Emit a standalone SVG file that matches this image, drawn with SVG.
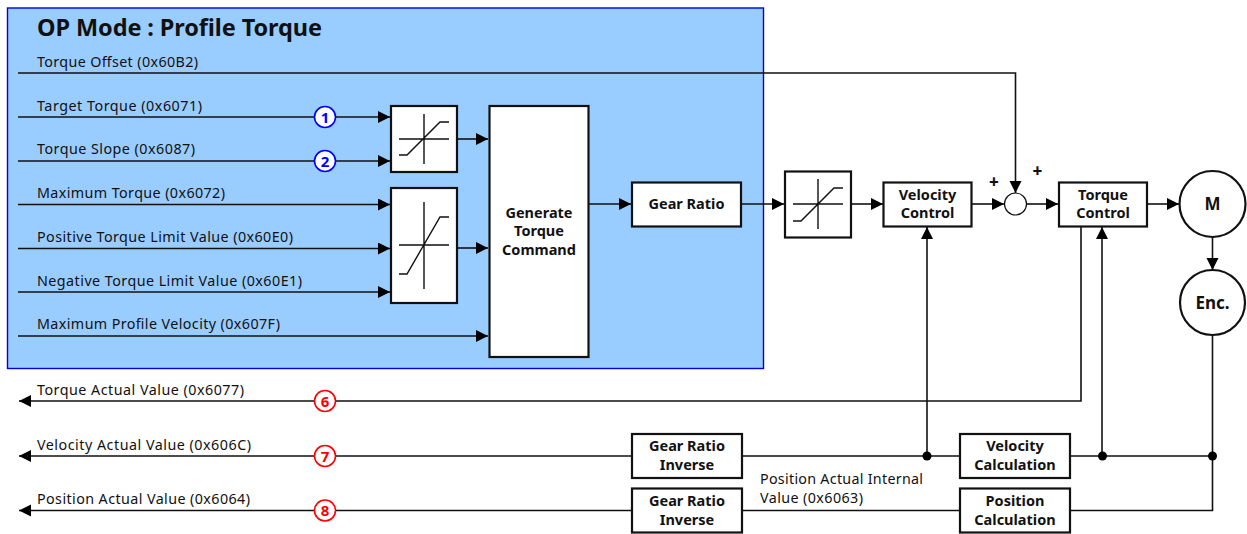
<svg xmlns="http://www.w3.org/2000/svg" width="1247" height="534" viewBox="0 0 1247 534">
<style>
text{font-family:"Noto Sans","Open Sans","Liberation Sans",sans-serif;fill:#111}
.l{font-size:14.300px}
.b{font-size:14.500px;font-weight:700;text-anchor:middle}
.n{font-size:17px;font-weight:700;text-anchor:middle}
.p{font-size:17px;font-weight:800;text-anchor:middle}
.box{fill:#fff;stroke:#111;stroke-width:2.200}
.w{fill:none;stroke:#111;stroke-width:1.600}
.g{fill:none;stroke:#111;stroke-width:1.400}
.cb{fill:#fff;stroke:#0000ff;stroke-width:1.600}
.cr{fill:#fff;stroke:#ff0000;stroke-width:1.600}
.tb{fill:#0000ff;font-size:15px;font-weight:700;text-anchor:middle}
.tr{fill:#ff0000;font-size:15px;font-weight:700;text-anchor:middle}
</style>
<defs>
<marker id="a" markerUnits="userSpaceOnUse" markerWidth="13" markerHeight="13" refX="12" refY="6" orient="auto"><path d="M0 0L12 6L0 12Z" fill="#000"/></marker>
</defs>
<g id="panel"><rect x="7.500" y="8" width="756" height="360.500" fill="#99ccff" stroke="#0000e6" stroke-width="1.400"/>
<text x="37" y="36" font-size="23.500" font-weight="700" textLength="285">OP Mode : Profile Torque</text></g>
<g id="connectors">
<path class="w" marker-end="url(#a)" d="M18 73H1015.500V193"/>
<path class="w" marker-end="url(#a)" d="M18 117H390"/>
<path class="w" marker-end="url(#a)" d="M18 161H390"/>
<path class="w" marker-end="url(#a)" d="M18 204.500H390"/>
<path class="w" marker-end="url(#a)" d="M18 248.500H390"/>
<path class="w" marker-end="url(#a)" d="M18 292H390"/>
<path class="w" marker-end="url(#a)" d="M18 336H488"/>
<path class="w" marker-end="url(#a)" d="M457 139H488"/>
<path class="w" marker-end="url(#a)" d="M457 248H488"/>
<path class="w" marker-end="url(#a)" d="M588 204H631"/>
<path class="w" marker-end="url(#a)" d="M741 204H784"/>
<path class="w" marker-end="url(#a)" d="M851 204H883"/>
<path class="w" marker-end="url(#a)" d="M972 204H1004"/>
<path class="w" marker-end="url(#a)" d="M1026.500 204H1058"/>
<path class="w" marker-end="url(#a)" d="M1147 204H1179"/>
<path class="w" marker-end="url(#a)" d="M1212.500 237V270"/>
<path class="w" marker-end="url(#a)" d="M1081 227V401H19"/>
<path class="w" marker-end="url(#a)" d="M632 456H19"/>
<path class="w" marker-end="url(#a)" d="M632 510.500H19"/>
<path class="w" d="M742 456H960M1070 456H1212.500M742 510.500H960M1070 510.500H1212.500V335"/>
<path class="w" marker-end="url(#a)" d="M927 456V227"/>
<path class="w" marker-end="url(#a)" d="M1102 456V227"/>
<circle cx="927" cy="456" r="4.500" fill="#000"/><circle cx="1102.500" cy="456" r="4.500" fill="#000"/><circle cx="1212.500" cy="456" r="4.500" fill="#000"/>
</g>
<g id="labels">
<text class="l" x="37" y="66.500" textLength="161">Torque Offset (0x60B2)</text>
<text class="l" x="37" y="110.500" textLength="165">Target Torque (0x6071)</text>
<text class="l" x="37" y="153.500" textLength="158">Torque Slope (0x6087)</text>
<text class="l" x="37" y="197.500" textLength="188">Maximum Torque (0x6072)</text>
<text class="l" x="37" y="241.500" textLength="256">Positive Torque Limit Value (0x60E0)</text>
<text class="l" x="37" y="285.500" textLength="265">Negative Torque Limit Value (0x60E1)</text>
<text class="l" x="37" y="328.500" textLength="243">Maximum Profile Velocity (0x607F)</text>
<text class="l" x="37" y="394.500" textLength="207">Torque Actual Value (0x6077)</text>
<text class="l" x="37" y="449.500" textLength="214">Velocity Actual Value (0x606C)</text>
<text class="l" x="37" y="503.500" textLength="213">Position Actual Value (0x6064)</text>
<text class="l" x="760" y="483.500" textLength="163">Position Actual Internal</text>
<text class="l" x="760" y="502.500" textLength="103">Value (0x6063)</text>
<text class="p" x="994" y="188">+</text>
<text class="p" x="1037.500" y="177">+</text>
</g>
<g id="m1"><circle class="cb" cx="325" cy="117" r="10.500"/><text class="tb" x="325" y="122.500">1</text></g>
<g id="m2"><circle class="cb" cx="325" cy="161" r="10.500"/><text class="tb" x="325" y="166.500">2</text></g>
<g id="m6"><circle class="cr" cx="325" cy="401" r="10.500"/><text class="tr" x="325" y="406.500">6</text></g>
<g id="m7"><circle class="cr" cx="325" cy="456" r="10.500"/><text class="tr" x="325" y="461.500">7</text></g>
<g id="m8"><circle class="cr" cx="325" cy="510.500" r="10.500"/><text class="tr" x="325" y="516">8</text></g>
<g id="limit1"><rect class="box" x="391" y="106" width="66" height="66"/><path class="g" d="M399 139H449M424 114V164M399 155H407L440 122H449"/></g>
<g id="limit2"><rect class="box" x="391" y="188" width="66" height="115"/><path class="g" d="M399 245H449M424 202V289M399 274H407L440 217H449"/></g>
<g id="generate"><rect class="box" x="489.500" y="106" width="99" height="251"/><text class="b" x="539" y="218">Generate</text><text class="b" x="539" y="236">Torque</text><text class="b" x="539" y="255">Command</text></g>
<g id="gear"><rect class="box" x="632" y="182.500" width="109" height="44"/><text class="b" x="686.500" y="209">Gear Ratio</text></g>
<g id="limit3"><rect class="box" x="785" y="171.500" width="66" height="66"/><path class="g" d="M793 204H843M818 179V229M793 221H801L834 188H843"/></g>
<g id="velocity"><rect class="box" x="883.500" y="182.500" width="88" height="44"/><text class="b" x="927.500" y="200">Velocity</text><text class="b" x="927.500" y="218">Control</text></g>
<g id="sum"><circle cx="1015.500" cy="204" r="11" fill="#fff" stroke="#111" stroke-width="1.200"/></g>
<g id="torque"><rect class="box" x="1059" y="182.500" width="88" height="44"/><text class="b" x="1103" y="200">Torque</text><text class="b" x="1103" y="218">Control</text></g>
<g id="motor"><circle class="box" cx="1212.500" cy="204" r="33"/><text class="n" x="1212.500" y="210">M</text></g>
<g id="encoder"><circle class="box" cx="1212.500" cy="302.500" r="32.500"/><text class="n" x="1212.500" y="308.500">Enc.</text></g>
<g id="gri1"><rect class="box" x="632" y="434" width="110" height="44"/><text class="b" x="687" y="451">Gear Ratio</text><text class="b" x="687" y="470">Inverse</text></g>
<g id="gri2"><rect class="box" x="632" y="488.500" width="110" height="44"/><text class="b" x="687" y="506">Gear Ratio</text><text class="b" x="687" y="525">Inverse</text></g>
<g id="velcalc"><rect class="box" x="960" y="434" width="110" height="44"/><text class="b" x="1015" y="451">Velocity</text><text class="b" x="1015" y="470">Calculation</text></g>
<g id="poscalc"><rect class="box" x="960" y="488.500" width="110" height="44"/><text class="b" x="1015" y="506">Position</text><text class="b" x="1015" y="525">Calculation</text></g>
</svg>
